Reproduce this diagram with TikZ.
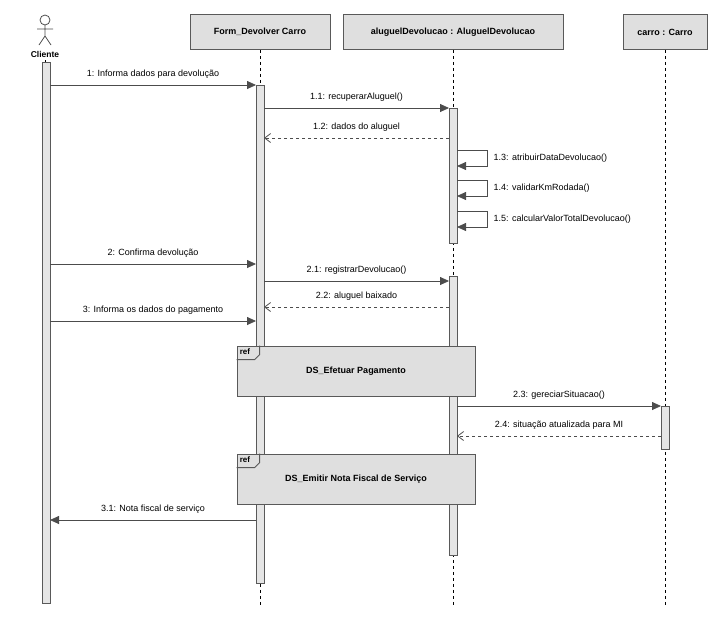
\documentclass[tikz,border=0pt]{standalone}
\usepackage{fontspec}
\setmainfont{Liberation Sans}
\usetikzlibrary{arrows.meta}
\begin{document}
\begin{tikzpicture}[x=1pt,y=-1pt,font=\fontsize{9}{10}\selectfont,
    head/.style={shape=rectangle,draw=gray!70!black,thick,fill=gray!25,minimum height=35pt,font=\fontsize{9}{10}\selectfont\bfseries},
    bar/.style={shape=rectangle,draw=gray!70!black,thick,fill=gray!20,minimum width=8pt,inner sep=0pt},
    msg/.style={draw=gray!60!black,thick,-{Triangle[length=9pt,width=8pt]}},
    ret/.style={draw=gray!60!black,thick,dashed,-{Straight Barb[length=6pt,width=9pt]}},
    life/.style={dashed,thin},
    refbox/.style={shape=rectangle,draw=gray!70!black,thick,fill=gray!25,minimum width=238pt,minimum height=50pt,font=\fontsize{9}{10}\selectfont\bfseries}]
    \useasboundingbox (0,0) rectangle (720,625);
    % heads
    \node[head,minimum width=140pt] (form) at (260,32) {Form\_Devolver Carro};
    \node[head,minimum width=220pt] (alug) at (453,32) {aluguelDevolucao : AluguelDevolucao};
    \node[head,minimum width=84pt] (carro) at (665,32) {carro : Carro};
    \draw[gray!60!black,thick] (45,20) circle (5pt);
    \draw[gray!60!black,thick] (45,25) -- (45,36) (37,29) -- (53,29) (45,36) -- (39,45) (45,36) -- (51,45);
    \node[font=\fontsize{8.5}{9}\selectfont\bfseries] (cli) at (45,54) {Cliente};
    % lifelines
    \draw[life] (form.south) -- (260,605);
    \draw[life] (alug.south) -- (453,605);
    \draw[life] (carro.south) -- (665,605);
    \draw[life] (45,60) -- (45,605);
    % activations
    \node[bar,minimum height=541pt] (aC) at (46,332.5) {};
    \node[bar,minimum height=498pt] (aF) at (260,334) {};
    \node[bar,minimum height=135pt] (aA1) at (453,175.5) {};
    \node[bar,minimum height=279pt] (aA2) at (453,415.5) {};
    \node[bar,minimum height=43pt] (aK) at (665,427.5) {};
    % coordinates
    \foreach \n/\y in {m1/85,m2/264,m3/321,m31/520} {
        \coordinate (\n c) at (50,\y); \coordinate (\n f) at (256,\y);}
    \foreach \n/\y in {m11/108,m12/138,m21/281,m22/307} {
        \coordinate (\n f) at (264,\y); \coordinate (\n a) at (449,\y);}
    \foreach \n/\y in {m23/406,m24/436} {
        \coordinate (\n a) at (457,\y); \coordinate (\n k) at (661,\y);}
    % messages
    \draw[msg] (m1c) -- node[above=3pt] {1: Informa dados para devolução} (m1f);
    \draw[msg] (m11f) -- node[above=3pt] {1.1: recuperarAluguel()} (m11a);
    \draw[ret] (m12a) -- node[above=3pt] {1.2: dados do aluguel} (m12f);
    \foreach \t/\y in {{1.3: atribuirDataDevolucao()}/150,{1.4: validarKmRodada()}/180,{1.5: calcularValorTotalDevolucao()}/211} {
        \coordinate (s1) at (457,\y); \coordinate (s2) at (457,\y+16);
        \draw[msg] (s1) -- ++(30,0) |- node[pos=0.25,right=3pt] {\t} (s2);}
    \draw[msg] (m2c) -- node[above=3pt] {2: Confirma devolução} (m2f);
    \draw[msg] (m21f) -- node[above=3pt] {2.1: registrarDevolucao()} (m21a);
    \draw[ret] (m22a) -- node[above=3pt] {2.2: aluguel baixado} (m22f);
    \draw[msg] (m3c) -- node[above=3pt] {3: Informa os dados do pagamento} (m3f);
    \draw[msg] (m23a) -- node[above=3pt] {2.3: gereciarSituacao()} (m23k);
    \draw[ret] (m24k) -- node[above=3pt] {2.4: situação atualizada para MI} (m24a);
    \draw[msg] (m31f) -- node[above=3pt] {3.1: Nota fiscal de serviço} (m31c);
    % refs
    \foreach \r/\y/\t in {r1/371/DS\_Efetuar Pagamento,r2/479/DS\_Emitir Nota Fiscal de Serviço} {
        \node[refbox] (\r) at (356,\y) {\t};
        \draw[gray!70!black,thick] ([shift={(0,14)}]\r.north west) -- ++(18,0) -- ++(5,-5) -- ++(0,-9);
        \node[anchor=north west,inner sep=2pt,font=\fontsize{8}{9}\selectfont\bfseries] at ([shift={(1,1)}]\r.north west) {ref};}
\end{tikzpicture}
\end{document}
